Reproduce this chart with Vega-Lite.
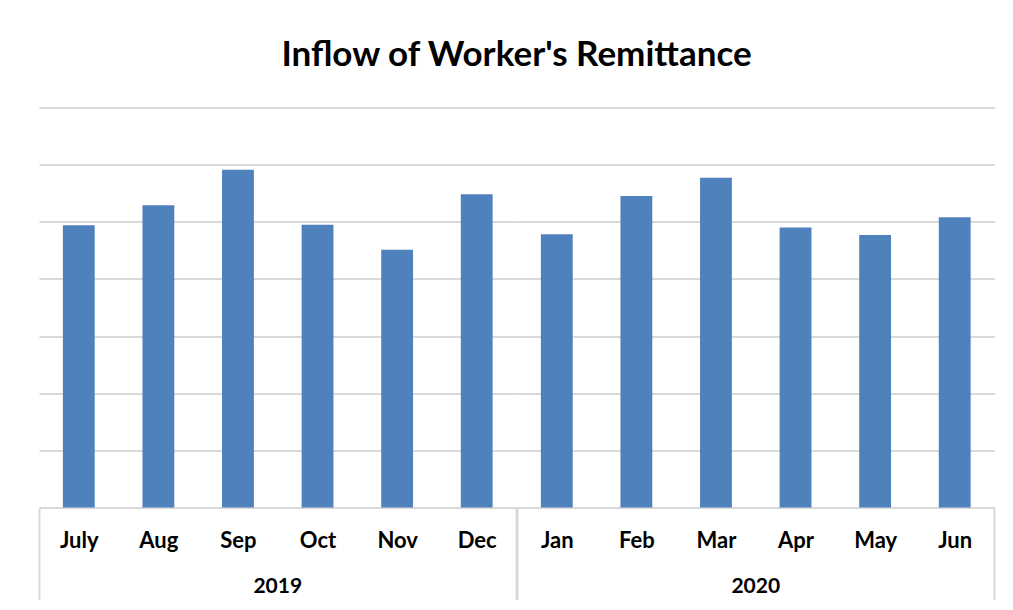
{
  "$schema": "https://vega.github.io/schema/vega-lite/v6.json",
  "padding": {"left": 38, "top": 37.5, "right": 10, "bottom": 0},
  "background": "white",
  "bounds": "flush",
  "title": {
    "text": "Inflow of Worker's Remittance",
    "font": "Lato",
    "fontSize": 35,
    "fontWeight": "bold",
    "color": "#000000",
    "anchor": "middle",
    "offset": 35
  },
  "data": {
    "values": [
      {"year": "2019", "month": "July", "value": 2470},
      {"year": "2019", "month": "Aug", "value": 2645},
      {"year": "2019", "month": "Sep", "value": 2955},
      {"year": "2019", "month": "Oct", "value": 2475},
      {"year": "2019", "month": "Nov", "value": 2255},
      {"year": "2019", "month": "Dec", "value": 2740},
      {"year": "2020", "month": "Jan", "value": 2390},
      {"year": "2020", "month": "Feb", "value": 2725},
      {"year": "2020", "month": "Mar", "value": 2885},
      {"year": "2020", "month": "Apr", "value": 2450},
      {"year": "2020", "month": "May", "value": 2385},
      {"year": "2020", "month": "Jun", "value": 2540}
    ]
  },
  "facet": {
    "column": {
      "field": "year",
      "type": "ordinal",
      "header": {
        "title": null,
        "labelOrient": "bottom",
        "labelFont": "Lato",
        "labelFontSize": 21,
        "labelFontWeight": "bold",
        "labelColor": "#000000",
        "labelPadding": 68
      }
    }
  },
  "spacing": 0,
  "resolve": {"scale": {"x": "independent"}},
  "spec": {
    "width": 477.5,
    "height": 400,
    "mark": {"type": "bar", "color": "#4f81bd", "width": {"band": 0.4}},
    "encoding": {
      "x": {
        "field": "month",
        "type": "ordinal",
        "sort": ["July", "Aug", "Sep", "Oct", "Nov", "Dec", "Jan", "Feb", "Mar", "Apr", "May", "Jun"],
        "scale": {"paddingInner": 0, "paddingOuter": 0},
        "axis": {
          "title": null,
          "labelAngle": 0,
          "labelFont": "Lato",
          "labelFontSize": 22,
          "labelFontWeight": "bold",
          "labelColor": "#000000",
          "labelPadding": -69,
          "domainColor": "#d9d9d9",
          "domainWidth": 2,
          "tickBand": "extent",
          "tickSize": 92,
          "tickWidth": 2,
          "tickColor": {"condition": {"test": "datum.extra || datum.value === 'Dec' || datum.value === 'Jun'", "value": "#d9d9d9"}, "value": "rgba(0,0,0,0)"}
        }
      },
      "y": {
        "field": "value",
        "type": "quantitative",
        "scale": {"domain": [0, 3500], "nice": false},
        "axis": {
          "title": null,
          "labels": false,
          "ticks": false,
          "domain": false,
          "grid": true,
          "gridColor": "#d9d9d9",
          "gridWidth": 2,
          "values": [0, 500, 1000, 1500, 2000, 2500, 3000, 3500],
          "minExtent": 0,
          "maxExtent": 0
        }
      }
    }
  },
  "config": {
    "view": {"stroke": null}
  }
}
